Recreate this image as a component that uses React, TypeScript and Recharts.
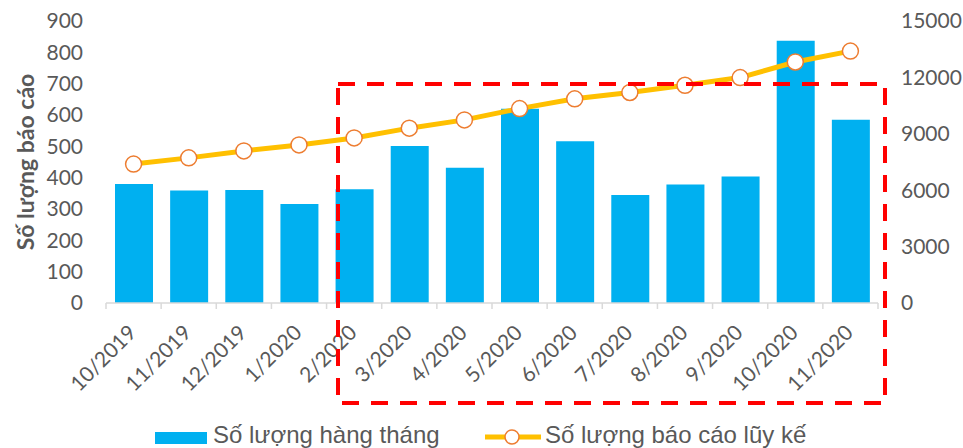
import { Bar, ComposedChart, Line, XAxis, YAxis } from "recharts";

const months = ["10/2019", "11/2019", "12/2019", "1/2020", "2/2020", "3/2020", "4/2020", "5/2020", "6/2020", "7/2020", "8/2020", "9/2020", "10/2020", "11/2020"];
const monthly = [380, 359, 361, 316, 363, 501, 432, 620, 516, 345, 378, 404, 837, 585];
const cumulative = [7390, 7720, 8090, 8410, 8780, 9300, 9740, 10340, 10860, 11200, 11580, 11990, 12820, 13400];
const leftTicks = [0, 100, 200, 300, 400, 500, 600, 700, 800, 900];
const rightTicks = [0, 3000, 6000, 9000, 12000, 15000];

const seriesNames = ["Số lượng hàng tháng", "Số lượng báo cáo lũy kế"];

const rows = months.map((m, i) => ({ month: m, monthly: monthly[i], cumulative: cumulative[i] }));

const gray = "#595959";
const tickFont = { fill: gray, fontSize: 21, fontFamily: "Lato" };

function MonthTick(props: any) {
  const { x, y, payload, index } = props;
  const off = payload.offset ?? 27.6;
  return (
    <g>
      <line x1={x - off} x2={x - off} y1={y} y2={y + 6} stroke="#D9D9D9" strokeWidth={1.5} />
      {index === months.length - 1 && <line x1={x + off} x2={x + off} y1={y} y2={y + 6} stroke="#D9D9D9" strokeWidth={1.5} />}
      <text x={x + 4} y={y + 31} textAnchor="end" transform={`rotate(-45, ${x + 4}, ${y + 31})`} fill={gray} fontSize={21} fontFamily="Lato">
        {payload.value}
      </text>
    </g>
  );
}

export default function App() {
  return (
    <div style={{ position: "relative", width: 963, height: 448, background: "#fff" }}>
      <style>{`body{margin:0}`}</style>
      <ComposedChart width={963} height={448} data={rows} margin={{ top: 21, right: 0, left: 0, bottom: 30 }}>
        <XAxis dataKey="month" interval={0} height={115} tickSize={0} tickMargin={0} tickLine={false} axisLine={{ stroke: "#D9D9D9", strokeWidth: 1.5 }} tick={<MonthTick />} />
        <YAxis
          yAxisId="left"
          width={106}
          domain={[0, 900]}
          ticks={leftTicks}
          axisLine={false}
          tickLine={false}
          tickSize={0}
          tickMargin={23}
          tick={tickFont}
          label={{
            content: () => (
              <text x={25} y={162} transform="rotate(-90, 25, 162)" textAnchor="middle" dominantBaseline="central" fill={gray} fontSize={23} fontWeight="bold" fontFamily="Lato">
                Số lượng báo cáo
              </text>
            ),
          }}
        />
        <YAxis yAxisId="right" orientation="right" width={85} domain={[0, 15000]} ticks={rightTicks} axisLine={false} tickLine={false} tickSize={0} tickMargin={23} tick={{ ...tickFont, textAnchor: "start" }} />
        <Bar yAxisId="left" dataKey="monthly" name={seriesNames[0]} fill="#00B0F0" barSize={38} isAnimationActive={false} />
        <Line
          yAxisId="right"
          dataKey="cumulative"
          name={seriesNames[1]}
          type="linear"
          stroke="#FFC000"
          strokeWidth={5}
          dot={{ r: 8, fill: "#fff", stroke: "#ED7D31", strokeWidth: 1.5 }}
          isAnimationActive={false}
        />
      </ComposedChart>
      <svg width={963} height={448} style={{ position: "absolute", left: 0, top: 0, pointerEvents: "none" }}>
        <rect x={338} y={84} width={547} height={319} fill="none" stroke="#FF0000" strokeWidth={4} strokeDasharray="17 12" />
        <rect x={155} y={432} width={52} height={12} fill="#00B0F0" />
        <text x={213} y={443} fill={gray} fontSize={24} fontFamily="Liberation Sans">{seriesNames[0]}</text>
        <line x1={485} x2={541} y1={437} y2={437} stroke="#FFC000" strokeWidth={5} />
        <circle cx={512} cy={437} r={7} fill="#fff" stroke="#ED7D31" strokeWidth={1.5} />
        <text x={545} y={443} fill={gray} fontSize={24} fontFamily="Liberation Sans">{seriesNames[1]}</text>
      </svg>
    </div>
  );
}
